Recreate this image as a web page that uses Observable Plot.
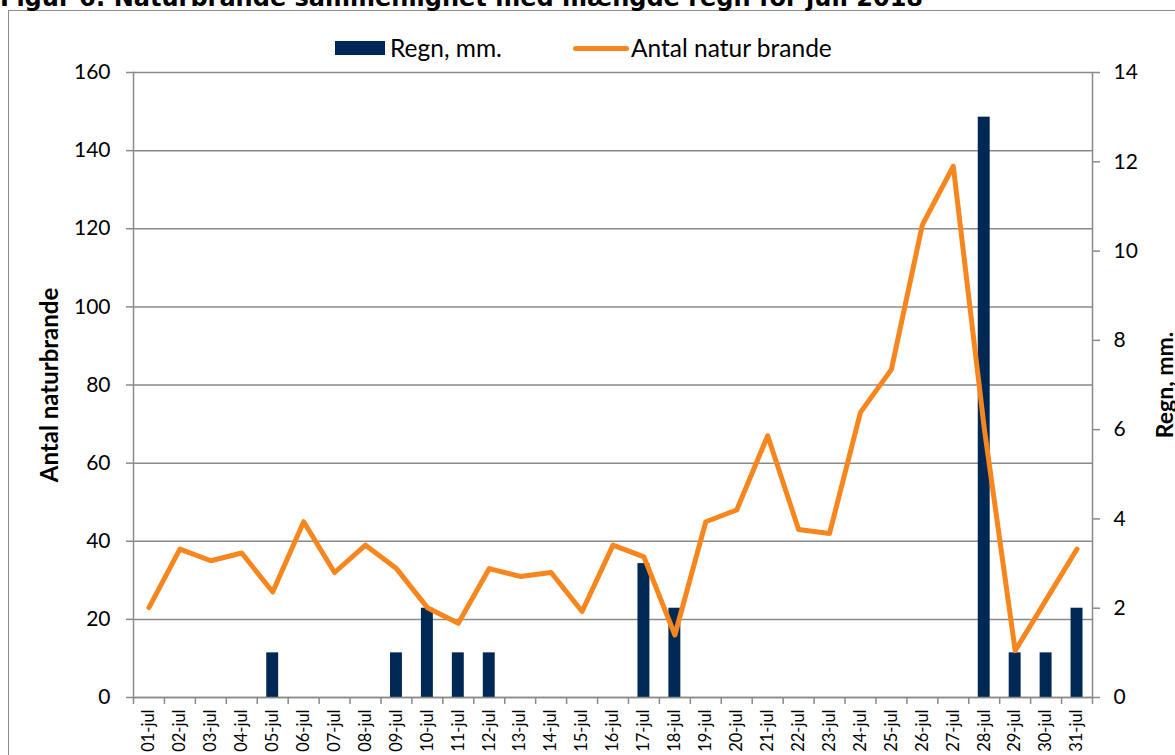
<!DOCTYPE html>
<html>
<head>
<meta charset="utf-8">
<script src="https://cdn.jsdelivr.net/npm/d3@7"></script>
<script src="https://cdn.jsdelivr.net/npm/@observablehq/plot@0.6"></script>
<style>
  html, body { margin: 0; padding: 0; background: #fff; overflow: hidden; }
  #wrap { position: relative; width: 1175px; height: 755px; overflow: hidden; }
  #title { position: absolute; left: 0; top: -14px; font: bold 24px "DejaVu Sans", sans-serif; white-space: nowrap; color: #000; line-height: 24px; }
  #border { position: absolute; left: 8px; top: 10px; width: 1400px; height: 1000px; border: 1.5px solid #8c8c8c; box-sizing: border-box; }
  #chart { position: absolute; left: 0; top: 0; }
  .leg { position: absolute; font: 24.5px Lato, sans-serif; color: #000; line-height: 1; white-space: nowrap; }
  .sw { position: absolute; }
</style>
</head>
<body>
<div id="wrap">
  <div id="border"></div>
  <div id="title"></div>
  <div id="chart"></div>
  <div id="legend"></div>
</div>
<script>
// ---- data ----
const titleText = "Figur 6: Naturbrande sammenlignet med mængde regn for juli 2018";
const days = ["01-jul","02-jul","03-jul","04-jul","05-jul","06-jul","07-jul","08-jul","09-jul","10-jul",
  "11-jul","12-jul","13-jul","14-jul","15-jul","16-jul","17-jul","18-jul","19-jul","20-jul",
  "21-jul","22-jul","23-jul","24-jul","25-jul","26-jul","27-jul","28-jul","29-jul","30-jul","31-jul"];
const fires = [23,38,35,37,27,45,32,39,33,23,19,33,31,32,22,39,36,16,45,48,67,43,42,73,84,121,136,69,12,25,38];
const rain  = [0,0,0,0,1,0,0,0,1,2,1,1,0,0,0,0,3,2,0,0,0,0,0,0,0,0,0,13,1,1,2];
const leftTicks = [0,20,40,60,80,100,120,140,160];
const rightTicks = [0,2,4,6,8,10,12,14];
const seriesNames = ["Regn, mm.", "Antal natur brande"];
const axisTitles = ["Antal naturbrande", "Regn, mm."];

const navy = "#002855";
const orange = "#f7861e";
const grey = "#8a8a8a";
const W = 1175, H = 755, mL = 133, mR = 83, mT = 72, mB = 58;
const bw = (W - mL - mR) / days.length;
const k = 160 / 14; // right axis (mm) -> left axis scale

const table = days.map((d, i) => ({day: d, fires: fires[i], rain: rain[i]}));

document.getElementById("title").textContent = titleText;

const chart = Plot.plot({
  width: W, height: H,
  marginLeft: mL, marginRight: mR, marginTop: mT, marginBottom: mB,
  style: {fontFamily: "Lato, sans-serif", fontSize: "20px", background: "transparent", overflow: "visible", color: "#000"},
  x: {type: "band", domain: days, padding: 0, round: false},
  y: {domain: [0, 160]},
  marks: [
    Plot.gridY(leftTicks, {stroke: grey, strokeOpacity: 1, strokeWidth: 1.5}),
    Plot.barY(table, {x: "day", y: d => d.rain * k, fill: navy, insetLeft: 9.5, insetRight: 9.5}),
    Plot.frame({anchor: "left", stroke: grey, strokeWidth: 1.5}),
    Plot.frame({anchor: "right", stroke: grey, strokeWidth: 1.5}),
    Plot.ruleY([0], {stroke: grey, strokeWidth: 1.5}),
    Plot.axisY(leftTicks, {anchor: "left", tickSize: 7, tickPadding: 16, stroke: grey, strokeWidth: 1.5, fontSize: 21, label: null}),
    Plot.axisY(rightTicks.map(v => v * k), {anchor: "right", tickSize: 7, tickPadding: 14, stroke: grey, strokeWidth: 1.5, fontSize: 21,
      tickFormat: d => String(Math.round(d / k)), label: null}),
    Plot.text([axisTitles[0]], {text: d => d, frameAnchor: "left", rotate: -90, dx: -83, fontWeight: "bold", fontSize: 24, textAnchor: "middle", lineAnchor: "middle"}),
    Plot.text([axisTitles[1]], {text: d => d, frameAnchor: "right", rotate: -90, dx: 73, fontWeight: "bold", fontSize: 23, textAnchor: "middle", lineAnchor: "middle"}),
    Plot.axisX(days, {tickSize: 7, dx: -bw / 2, tickFormat: () => "", stroke: grey, strokeWidth: 1.5, label: null}),
    Plot.axisX([days[days.length - 1]], {tickSize: 7, dx: bw / 2, tickFormat: () => "", stroke: grey, strokeWidth: 1.5, label: null}),
    Plot.axisX(days, {tickSize: 0, tickPadding: 12, tickRotate: -90, fontSize: 16.5, label: null}),
    Plot.line(table, {x: "day", y: "fires", stroke: orange, strokeWidth: 5, strokeLinejoin: "round", strokeLinecap: "round"})
  ]
});
document.getElementById("chart").appendChild(chart);

// legend
const leg = document.getElementById("legend");
leg.innerHTML = `
  <div class="sw" style="left:335px;top:41px;width:50px;height:14px;background:${navy}"></div>
  <div class="leg" style="left:390px;top:36px">${seriesNames[0]}</div>
  <div class="sw" style="left:573px;top:46px;width:56px;height:5px;border-radius:3px;background:${orange}"></div>
  <div class="leg" style="left:631px;top:36px">${seriesNames[1]}</div>`;
</script>
</body>
</html>
